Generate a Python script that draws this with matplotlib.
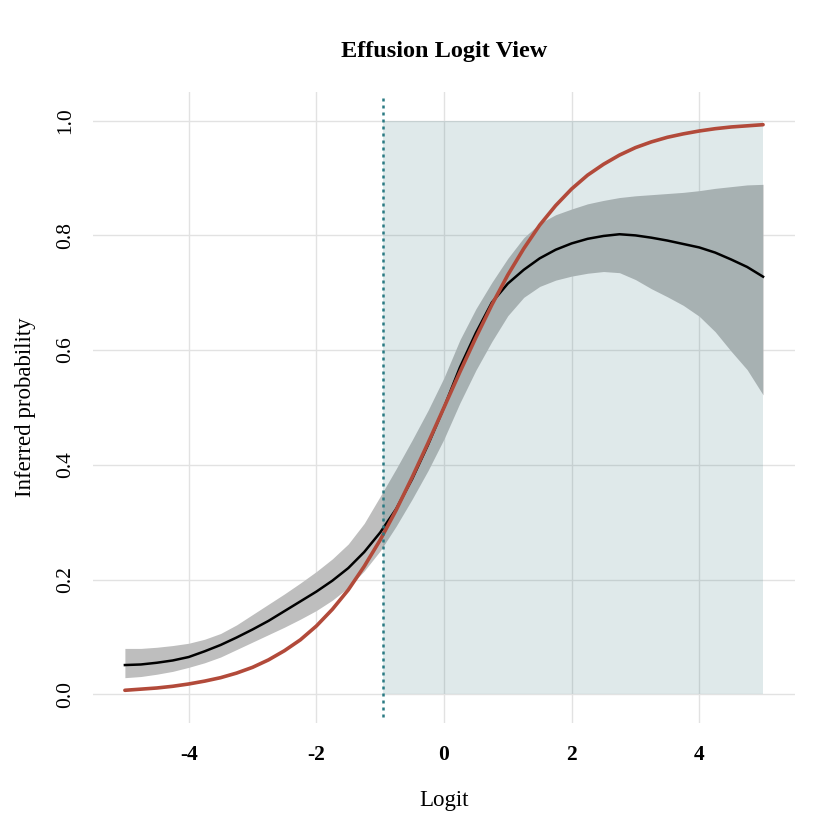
import matplotlib
matplotlib.use("Agg")
import matplotlib.pyplot as plt

# ---------------- data ----------------
logit = [-5.0, -4.75, -4.5, -4.25, -4.0, -3.75, -3.5, -3.25, -3.0, -2.75, -2.5, -2.25,
         -2.0, -1.75, -1.5, -1.25, -1.0, -0.75, -0.5, -0.25, 0.0, 0.25, 0.5, 0.75,
         1.0, 1.25, 1.5, 1.75, 2.0, 2.25, 2.5, 2.75, 3.0, 3.25, 3.5, 3.75, 4.0,
         4.25, 4.5, 4.75, 5.0]

mean_prob = [0.051, 0.052, 0.055, 0.059, 0.065, 0.075, 0.086, 0.099, 0.113, 0.128, 0.145, 0.162,
             0.179, 0.198, 0.220, 0.248, 0.282, 0.323, 0.375, 0.435, 0.500, 0.570, 0.630, 0.683,
             0.716, 0.740, 0.760, 0.775, 0.786, 0.794, 0.799, 0.802, 0.800, 0.796, 0.791, 0.785, 0.779,
             0.770, 0.758, 0.745, 0.728]

upper_prob = [0.080, 0.080, 0.082, 0.085, 0.089, 0.096, 0.106, 0.121, 0.139, 0.157, 0.175, 0.194,
              0.214, 0.236, 0.262, 0.298, 0.345, 0.393, 0.443, 0.495, 0.552, 0.618, 0.672, 0.718,
              0.760, 0.796, 0.821, 0.836, 0.846, 0.855, 0.861, 0.866, 0.869, 0.871, 0.873, 0.875, 0.878,
              0.882, 0.885, 0.888, 0.889]

lower_prob = [0.029, 0.031, 0.035, 0.040, 0.047, 0.055, 0.065, 0.078, 0.091, 0.104, 0.117, 0.131,
              0.146, 0.164, 0.186, 0.215, 0.250, 0.293, 0.340, 0.390, 0.445, 0.508, 0.565, 0.615,
              0.660, 0.692, 0.711, 0.722, 0.729, 0.734, 0.737, 0.735, 0.723, 0.707, 0.693, 0.678, 0.659,
              0.632, 0.598, 0.566, 0.522]

sigmoid_prob = [0.007, 0.009, 0.011, 0.014, 0.018, 0.023, 0.029, 0.037, 0.047, 0.060, 0.076, 0.095,
                0.119, 0.148, 0.182, 0.223, 0.269, 0.321, 0.378, 0.438, 0.500, 0.562, 0.622, 0.679,
                0.731, 0.777, 0.818, 0.852, 0.881, 0.905, 0.924, 0.940, 0.953, 0.963, 0.971, 0.977, 0.982,
                0.986, 0.989, 0.991, 0.993]

threshold = -0.96
shade_x = [threshold, 5.0]
shade_low = [0.0, 0.0]
shade_high = [1.0, 1.0]

x_ticks = [-4, -2, 0, 2, 4]
y_ticks = [0.0, 0.2, 0.4, 0.6, 0.8, 1.0]
y_tick_labels = ["0.0", "0.2", "0.4", "0.6", "0.8", "1.0"]

# ---------------- style ----------------
plt.rcParams["font.family"] = ["Liberation Serif", "DejaVu Serif"]

fig = plt.figure(figsize=(8.4, 8.4), dpi=100)
ax = fig.add_axes([0.1107, 0.1393, 0.8357, 0.7512])

ax.fill_between(logit, lower_prob, upper_prob, color="#BEBEBE", linewidth=0, zorder=1)
ax.fill_between(shade_x, shade_low, shade_high, color="#226670", alpha=0.14,
                linewidth=0, zorder=2)
ax.plot(logit, mean_prob, color="black", linewidth=1.8, zorder=3)
ax.plot(logit, sigmoid_prob, color="#B24A3A", linewidth=2.6, zorder=4,
        solid_capstyle="round")
ax.axvline(threshold, ymin=0.01, ymax=0.99, color="#2A7A83", linewidth=1.8,
           linestyle=(0, (1.2, 1.6)), zorder=5)

ax.set_xlim(-5.5, 5.5)
ax.set_ylim(-0.05, 1.05)
ax.set_xticks(x_ticks)
ax.set_xticklabels([str(t) for t in x_ticks], fontsize=15.5, fontweight="bold")
ax.set_yticks(y_ticks)
ax.set_yticklabels(y_tick_labels, fontsize=15.5, rotation=90, va="center")

ax.grid(True, color="#E2E2E2", linewidth=1.0)
ax.set_axisbelow(True)
for s in ax.spines.values():
    s.set_visible(False)
ax.tick_params(axis="x", length=0, pad=16)
ax.tick_params(axis="y", length=0, pad=13)

ax.set_title("Effusion Logit View", fontsize=17.5, fontweight="bold", pad=25)
ax.set_xlabel("Logit", fontsize=16.5, labelpad=18)
ax.set_ylabel("Inferred probability", fontsize=16.5, labelpad=14)

fig.savefig("out.png", dpi=100, facecolor="white")
